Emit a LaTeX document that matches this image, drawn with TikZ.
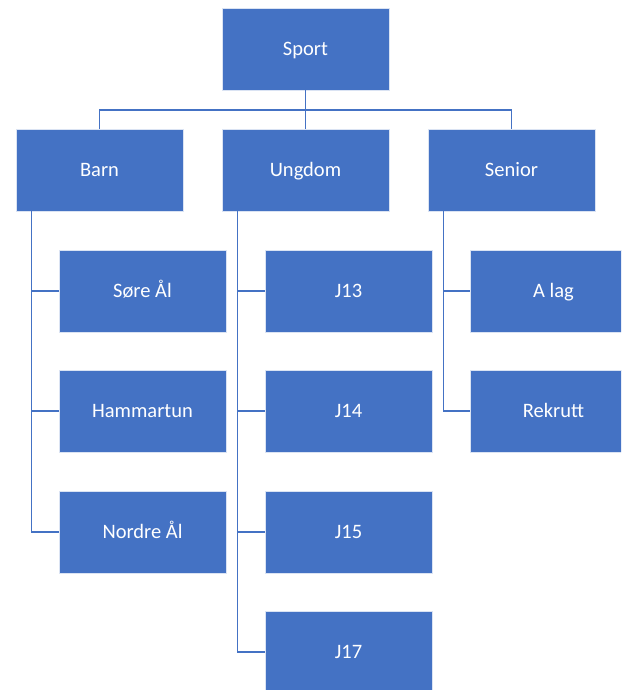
\documentclass[tikz,border=0pt]{standalone}
\usepackage{fontspec}
\setmainfont{Carlito}
\definecolor{offblue}{HTML}{4472C4}
\begin{document}
\begin{tikzpicture}[x=1pt,y=-1pt,
  box/.style={rectangle,fill=offblue,draw=white!80!offblue,line width=0.7pt,
    minimum width=167pt,minimum height=82pt,inner sep=0pt,
    text height=13.2pt,text depth=0pt,
    text=white,font=\fontsize{20.5}{24}\selectfont},
  link/.style={draw=offblue,line width=1.6pt}]
\useasboundingbox (0,0) rectangle (621,690);
\clip (0,0) rectangle (621,690);
\node[box] (sport) at (305.5,49) {Sport};
\node[box] (barn) at (99.5,170) {Barn};
\node[box] (ungdom) at (305.5,170) {Ungdom};
\node[box] (senior) at (511.5,170) {Senior};
\node[box] (sore) at (142.5,291) {Søre Ål};
\node[box] (hammar) at (142.5,411) {Hammartun};
\node[box] (nordre) at (142.5,532) {Nordre Ål};
\node[box] (j13) at (348.5,291) {J13};
\node[box] (j14) at (348.5,411) {J14};
\node[box] (j15) at (348.5,532) {J15};
\node[box] (j17) at (348.5,652) {J17};
\node[box] (alag) at (553.5,291) {A lag};
\node[box] (rekrutt) at (553.5,411) {Rekrutt};
\coordinate (bar) at (0,110);
\draw[link] (sport.south) -- (ungdom.north);
\draw[link] (barn.north) |- (bar -| ungdom.north) -| (senior.north);
\foreach \p/\c in {barn/sore,barn/hammar,barn/nordre,ungdom/j13,ungdom/j14,ungdom/j15,ungdom/j17,senior/alag,senior/rekrutt}
  \draw[link] ([xshift=16pt]\p.south west) |- (\c.west);
\end{tikzpicture}
\end{document}
